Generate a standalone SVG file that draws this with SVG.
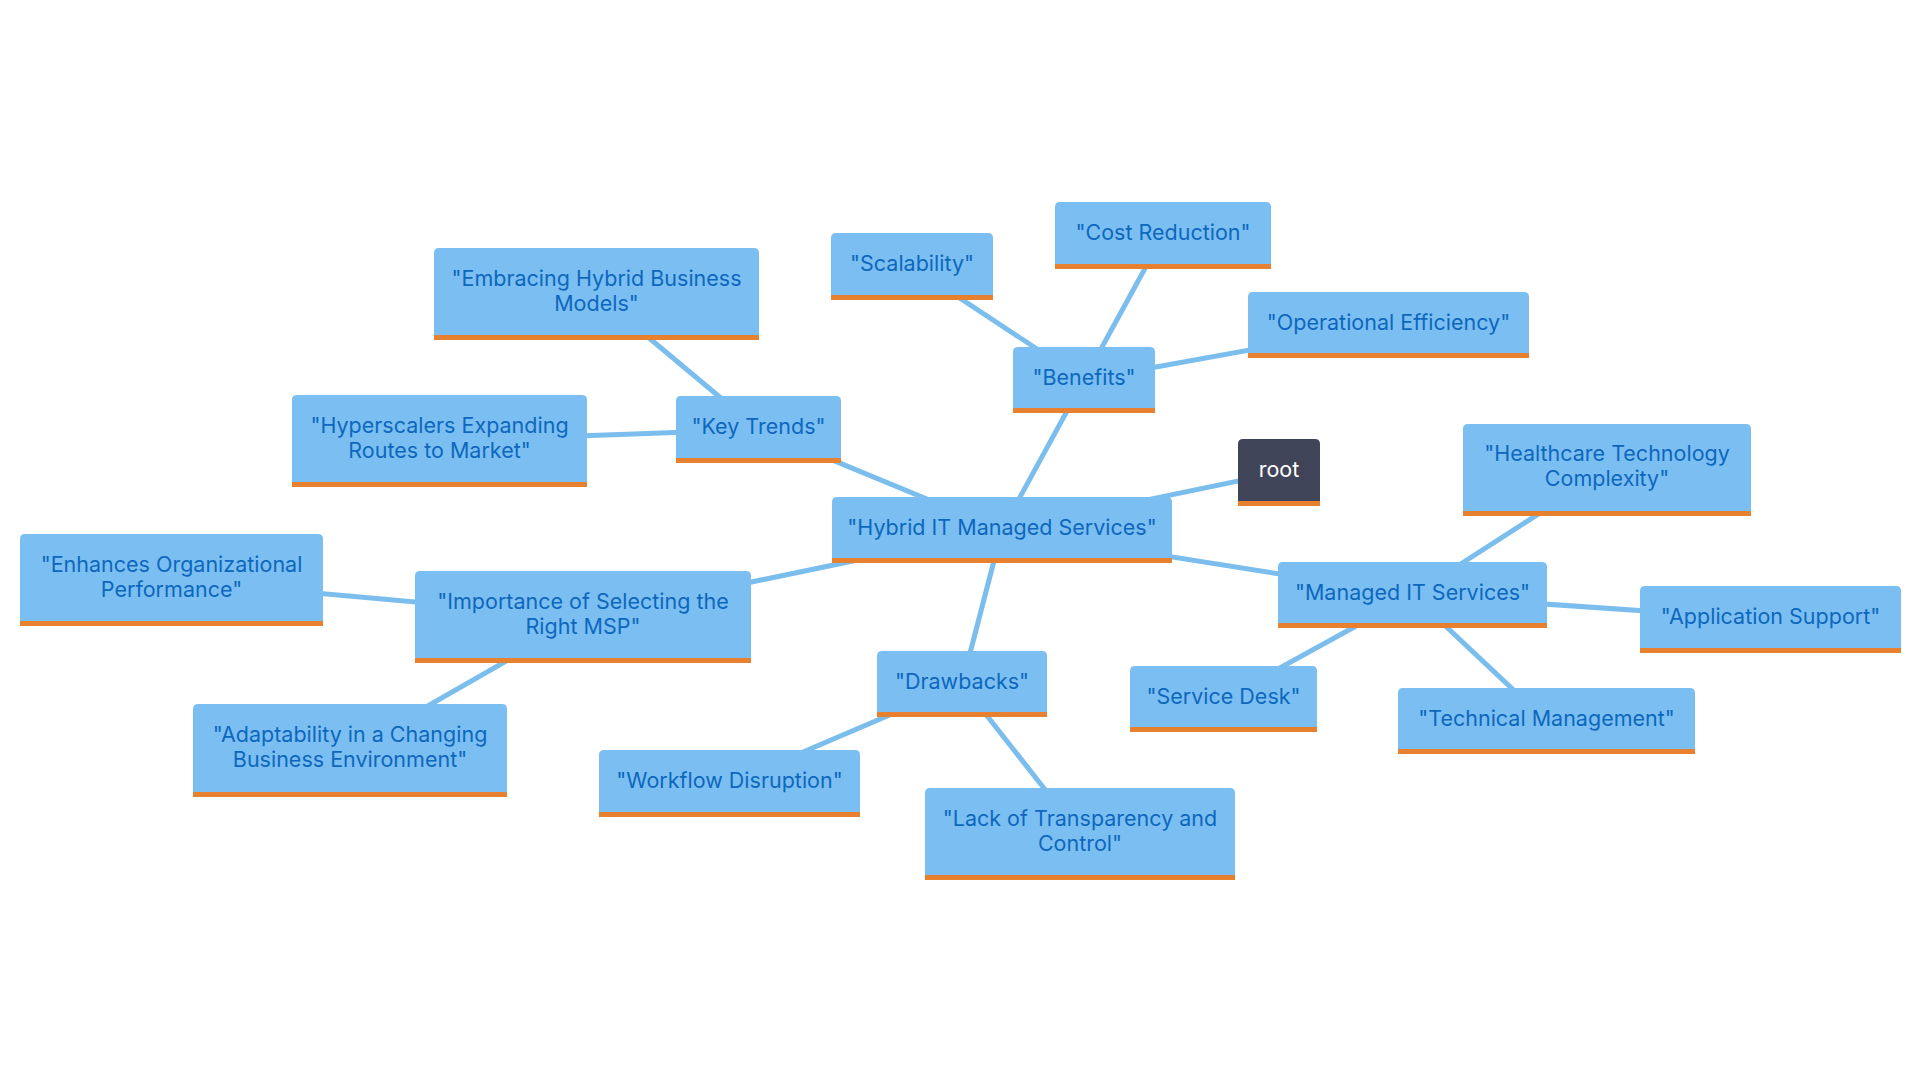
<svg xmlns="http://www.w3.org/2000/svg" width="1920" height="1080" viewBox="0 0 1920 1080">
<style>
.bg{fill:#ffffff}
.edge{stroke:#7BBEEE;stroke-width:5;fill:none;stroke-linecap:butt}
.box{fill:#7BBFF2}
.rootbox{fill:#404459}
.bar{fill:#E8812F}
.t{font-family:Inter,"Open Sans","Liberation Sans",sans-serif;font-size:21.5px;fill:#0D67BD;text-anchor:middle}
.rt{font-family:Inter,"Open Sans","Liberation Sans",sans-serif;font-size:21.5px;fill:#ffffff;text-anchor:middle}
</style>
<rect class="bg" x="0" y="0" width="1920" height="1080"/>
<g id="connectors">
<line class="edge" x1="1002" y1="530" x2="1279" y2="472.5"/>
<line class="edge" x1="1002" y1="530" x2="1084" y2="380"/>
<line class="edge" x1="1002" y1="530" x2="758.5" y2="429.5"/>
<line class="edge" x1="1002" y1="530" x2="583" y2="617"/>
<line class="edge" x1="1002" y1="530" x2="962" y2="684"/>
<line class="edge" x1="1002" y1="530" x2="1412.5" y2="595"/>
<line class="edge" x1="1084" y1="380" x2="912" y2="266.5"/>
<line class="edge" x1="1084" y1="380" x2="1163" y2="235.5"/>
<line class="edge" x1="1084" y1="380" x2="1388.5" y2="325"/>
<line class="edge" x1="758.5" y1="429.5" x2="596.5" y2="294"/>
<line class="edge" x1="758.5" y1="429.5" x2="439.5" y2="441"/>
<line class="edge" x1="583" y1="617" x2="171.5" y2="580"/>
<line class="edge" x1="583" y1="617" x2="350" y2="750.5"/>
<line class="edge" x1="962" y1="684" x2="729.5" y2="783.5"/>
<line class="edge" x1="962" y1="684" x2="1080" y2="834"/>
<line class="edge" x1="1412.5" y1="595" x2="1607" y2="470"/>
<line class="edge" x1="1412.5" y1="595" x2="1770.5" y2="619.5"/>
<line class="edge" x1="1412.5" y1="595" x2="1546.5" y2="721"/>
<line class="edge" x1="1412.5" y1="595" x2="1223.5" y2="699"/>
</g>
<g id="node-hybrid">
<path class="box" d="M832,563 V502 Q832,497 837,497 H1167 Q1172,497 1172,502 V563 Z"/>
<rect class="bar" x="832" y="558" width="340" height="5"/>
<text class="t" x="1002" y="535">"Hybrid IT Managed Services"</text>
</g>
<g id="node-root">
<path class="rootbox" d="M1238,506 V444 Q1238,439 1243,439 H1315 Q1320,439 1320,444 V506 Z"/>
<rect class="bar" x="1238" y="501" width="82" height="5"/>
<text class="rt" x="1279" y="477">root</text>
</g>
<g id="node-benefits">
<path class="box" d="M1013,413 V352 Q1013,347 1018,347 H1150 Q1155,347 1155,352 V413 Z"/>
<rect class="bar" x="1013" y="408" width="142" height="5"/>
<text class="t" x="1084" y="385">"Benefits"</text>
</g>
<g id="node-scalability">
<path class="box" d="M831,300 V238 Q831,233 836,233 H988 Q993,233 993,238 V300 Z"/>
<rect class="bar" x="831" y="295" width="162" height="5"/>
<text class="t" x="912" y="271">"Scalability"</text>
</g>
<g id="node-cost">
<path class="box" d="M1055,269 V207 Q1055,202 1060,202 H1266 Q1271,202 1271,207 V269 Z"/>
<rect class="bar" x="1055" y="264" width="216" height="5"/>
<text class="t" x="1163" y="240">"Cost Reduction"</text>
</g>
<g id="node-operational">
<path class="box" d="M1248,358 V297 Q1248,292 1253,292 H1524 Q1529,292 1529,297 V358 Z"/>
<rect class="bar" x="1248" y="353" width="281" height="5"/>
<text class="t" x="1388.5" y="330">"Operational Efficiency"</text>
</g>
<g id="node-keytrends">
<path class="box" d="M676,463 V401 Q676,396 681,396 H836 Q841,396 841,401 V463 Z"/>
<rect class="bar" x="676" y="458" width="165" height="5"/>
<text class="t" x="758.5" y="434">"Key Trends"</text>
</g>
<g id="node-embracing">
<path class="box" d="M434,340 V253 Q434,248 439,248 H754 Q759,248 759,253 V340 Z"/>
<rect class="bar" x="434" y="335" width="325" height="5"/>
<text class="t" x="596.5" y="286">"Embracing Hybrid Business</text>
<text class="t" x="596.5" y="311">Models"</text>
</g>
<g id="node-hyperscalers">
<path class="box" d="M292,487 V400 Q292,395 297,395 H582 Q587,395 587,400 V487 Z"/>
<rect class="bar" x="292" y="482" width="295" height="5"/>
<text class="t" x="439.5" y="433">"Hyperscalers Expanding</text>
<text class="t" x="439.5" y="458">Routes to Market"</text>
</g>
<g id="node-importance">
<path class="box" d="M415,663 V576 Q415,571 420,571 H746 Q751,571 751,576 V663 Z"/>
<rect class="bar" x="415" y="658" width="336" height="5"/>
<text class="t" x="583" y="609">"Importance of Selecting the</text>
<text class="t" x="583" y="634">Right MSP"</text>
</g>
<g id="node-enhances">
<path class="box" d="M20,626 V539 Q20,534 25,534 H318 Q323,534 323,539 V626 Z"/>
<rect class="bar" x="20" y="621" width="303" height="5"/>
<text class="t" x="171.5" y="572">"Enhances Organizational</text>
<text class="t" x="171.5" y="597">Performance"</text>
</g>
<g id="node-adaptability">
<path class="box" d="M193,797 V709 Q193,704 198,704 H502 Q507,704 507,709 V797 Z"/>
<rect class="bar" x="193" y="792" width="314" height="5"/>
<text class="t" x="350" y="742">"Adaptability in a Changing</text>
<text class="t" x="350" y="767">Business Environment"</text>
</g>
<g id="node-drawbacks">
<path class="box" d="M877,717 V656 Q877,651 882,651 H1042 Q1047,651 1047,656 V717 Z"/>
<rect class="bar" x="877" y="712" width="170" height="5"/>
<text class="t" x="962" y="689">"Drawbacks"</text>
</g>
<g id="node-workflow">
<path class="box" d="M599,817 V755 Q599,750 604,750 H855 Q860,750 860,755 V817 Z"/>
<rect class="bar" x="599" y="812" width="261" height="5"/>
<text class="t" x="729.5" y="788">"Workflow Disruption"</text>
</g>
<g id="node-lack">
<path class="box" d="M925,880 V793 Q925,788 930,788 H1230 Q1235,788 1235,793 V880 Z"/>
<rect class="bar" x="925" y="875" width="310" height="5"/>
<text class="t" x="1080" y="826">"Lack of Transparency and</text>
<text class="t" x="1080" y="851">Control"</text>
</g>
<g id="node-managed">
<path class="box" d="M1278,628 V567 Q1278,562 1283,562 H1542 Q1547,562 1547,567 V628 Z"/>
<rect class="bar" x="1278" y="623" width="269" height="5"/>
<text class="t" x="1412.5" y="600">"Managed IT Services"</text>
</g>
<g id="node-healthcare">
<path class="box" d="M1463,516 V429 Q1463,424 1468,424 H1746 Q1751,424 1751,429 V516 Z"/>
<rect class="bar" x="1463" y="511" width="288" height="5"/>
<text class="t" x="1607" y="461">"Healthcare Technology</text>
<text class="t" x="1607" y="486">Complexity"</text>
</g>
<g id="node-appsupport">
<path class="box" d="M1640,653 V591 Q1640,586 1645,586 H1896 Q1901,586 1901,591 V653 Z"/>
<rect class="bar" x="1640" y="648" width="261" height="5"/>
<text class="t" x="1770.5" y="624">"Application Support"</text>
</g>
<g id="node-technical">
<path class="box" d="M1398,754 V693 Q1398,688 1403,688 H1690 Q1695,688 1695,693 V754 Z"/>
<rect class="bar" x="1398" y="749" width="297" height="5"/>
<text class="t" x="1546.5" y="726">"Technical Management"</text>
</g>
<g id="node-servicedesk">
<path class="box" d="M1130,732 V671 Q1130,666 1135,666 H1312 Q1317,666 1317,671 V732 Z"/>
<rect class="bar" x="1130" y="727" width="187" height="5"/>
<text class="t" x="1223.5" y="704">"Service Desk"</text>
</g>
</svg>
